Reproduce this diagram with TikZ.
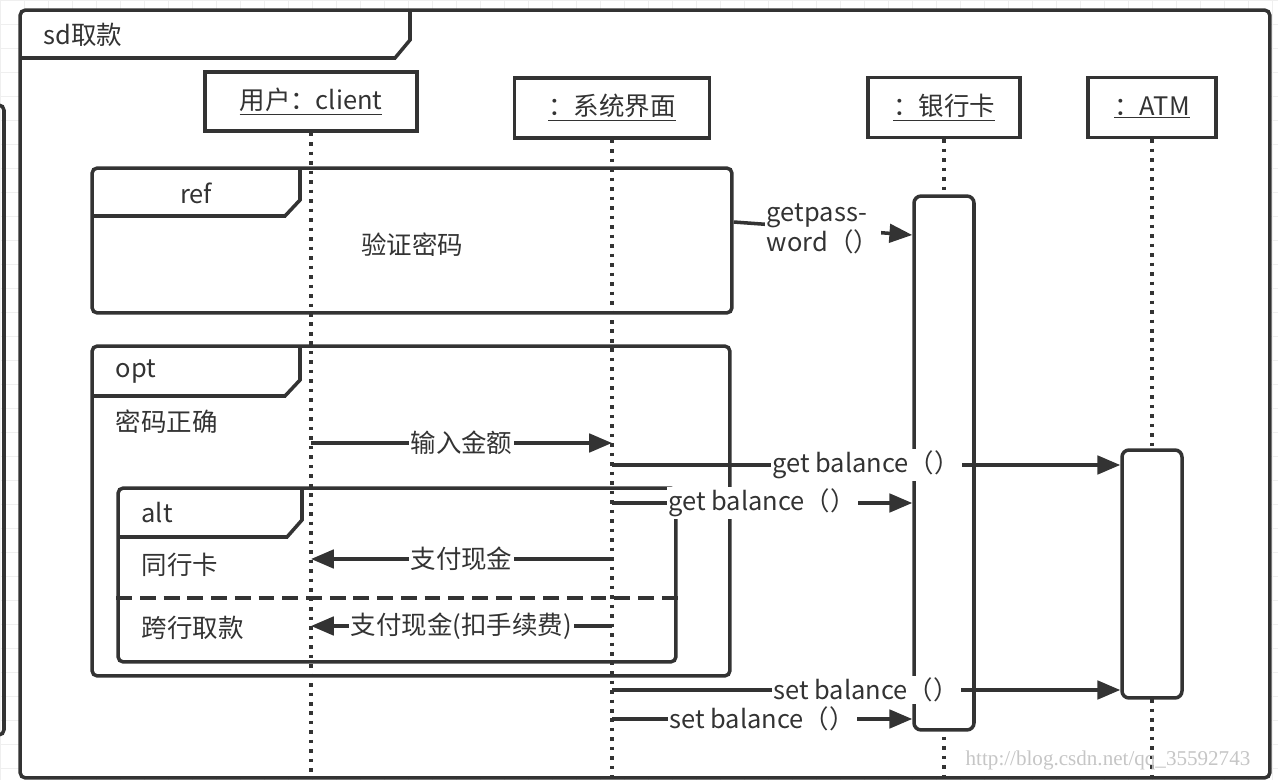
\documentclass[tikz,border=0pt]{standalone}
\usepackage{fontspec}
\setmainfont{Noto Sans CJK SC}
\newfontfamily\wmfont{Liberation Serif}
\usetikzlibrary{arrows.meta}
\definecolor{ink}{HTML}{333333}
\definecolor{gridc}{HTML}{EFEFEF}

\begin{document}
\begin{tikzpicture}[x=0.02cm, y=-0.02cm, line width=2pt, color=ink,
  font=\fontsize{14.5}{17}\selectfont,
  frm/.style={draw, rounded corners=3pt, inner sep=0pt},
  head/.style={draw, rectangle, minimum height=1.2cm, inner sep=0pt},
  act/.style={draw, fill=white, rounded corners=4pt, minimum width=1.2cm, inner sep=0pt},
  life/.style={line width=2.2pt, dash pattern=on 2pt off 3.4pt},
  msg/.style={-{Triangle[length=13pt,width=10.5pt]}},
  lbl/.style={fill=white, inner sep=1pt}]
  \useasboundingbox (0,0) rectangle (1278,780);
  % background grid
  \foreach \gx in {0,24,...,1278} \draw[gridc, line width=0.5pt] (\gx,0) -- (\gx,780);
  \foreach \gy in {0,24,...,780} \draw[gridc, line width=0.5pt] (0,\gy) -- (1278,\gy);
  \draw[rounded corners=3pt] (-20,105) -- (4,105) -- (4,735) -- (-20,735);

  % outer frame
  \node[frm, fill=white, minimum width=25cm, minimum height=15.36cm] (sdfrm) at (645,394) {};
  \draw (20,58) -- (395,58) -- (410,40) -- (410,10);
  \node[anchor=west] (sdlbl) at (36,35) {sd取款};

  % lifeline heads
  \node[head, minimum width=4.24cm, minimum height=1.18cm] (client) at (311,101.5) {\underline{用户：client}};
  \node[head, minimum width=3.9cm] (ui) at (612,108) {\underline{：系统界面}};
  \node[head, minimum width=3.04cm] (card) at (944,107.5) {\underline{：银行卡}};
  \node[head, minimum width=2.56cm] (atm) at (1152,107.5) {\underline{：ATM}};

  % lifelines
  \draw[life] (client.south) -- (client |- 0,778);
  \draw[life] (ui.south) -- (ui |- 0,778);
  \draw[life] (card.south) -- (card |- 0,778);
  \draw[life] (atm.south) -- (atm |- 0,778);

  % activations
  \node[act, minimum height=10.68cm] (cardact) at (944,463) {};
  \node[act, minimum height=4.96cm] (atmact) at (1152,574) {};

  % ref frame
  \node[frm, minimum width=12.8cm, minimum height=2.9cm] (reffrm) at (412,240.5) {};
  \draw (300,168) -- (300,200) -- (285,216) -- (92,216);
  \node (reflbl) at (196,193) {ref};
  \node (refname) at (412,245) {验证密码};

  % opt frame
  \node[frm, minimum width=12.76cm, minimum height=6.6cm] (optfrm) at (411,511) {};
  \draw (300,346) -- (300,380) -- (285,396) -- (92,396);
  \node[anchor=west] (optlbl) at (108,372) {opt};
  \node[anchor=west] (optcond) at (108,422) {密码正确};

  % alt frame
  \node[frm, minimum width=11.16cm, minimum height=3.48cm] (altfrm) at (397,575) {};
  \draw (302,488) -- (302,520) -- (287,537) -- (118,537);
  \draw[dash pattern=on 9pt off 4.5pt] (altfrm.west |- 0,598) -- (altfrm.east |- 0,598);
  \node[anchor=west] (altlbl) at (134,513) {alt};
  \node[anchor=west] (altcond1) at (134,565) {同行卡};
  \node[anchor=west] (altcond2) at (134,628) {跨行取款};

  % messages
  \draw[msg] (reffrm.east |- 0,222) -- (cardact.west |- 0,235)
    node[lbl, midway, align=left] {getpass-\\word（）};
  \draw[msg] (client |- 0,443) -- (ui |- 0,443) node[lbl, midway] {输入金额};
  \draw[msg] (ui |- 0,465) -- (atmact.west |- 0,465) node[lbl, midway] {get balance（）};
  \draw[msg] (ui |- 0,503) -- (cardact.west |- 0,503) node[lbl, midway] {get balance（）};
  \draw[msg] (ui |- 0,559) -- (client |- 0,559) node[lbl, midway] {支付现金};
  \draw[msg] (ui |- 0,626) -- (client |- 0,626) node[lbl, midway] {支付现金(扣手续费)};
  \draw[msg] (ui |- 0,690) -- (atmact.west |- 0,690) node[lbl, midway] {set balance（）};
  \draw[msg] (ui |- 0,719) -- (cardact.west |- 0,719) node[lbl, midway] {set balance（）};

  \node[text=gray!45, font=\wmfont\fontsize{12}{14}\selectfont] (mark) at (1108,760) {http://blog.csdn.net/qq\_35592743};
\end{tikzpicture}
\end{document}
